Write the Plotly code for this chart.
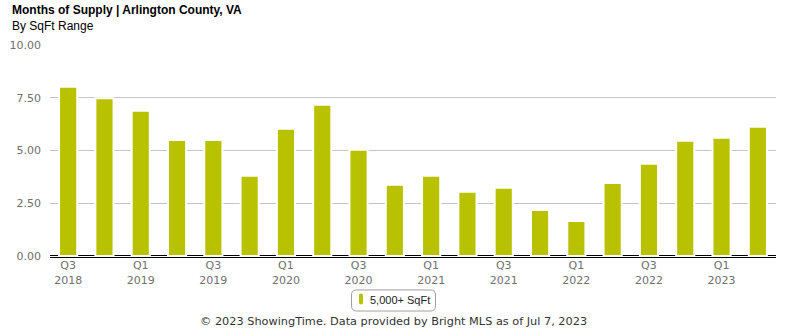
import plotly.graph_objects as go

quarters = ["Q3 2018", "Q4 2018", "Q1 2019", "Q2 2019", "Q3 2019", "Q4 2019",
            "Q1 2020", "Q2 2020", "Q3 2020", "Q4 2020", "Q1 2021", "Q2 2021",
            "Q3 2021", "Q4 2021", "Q1 2022", "Q2 2022", "Q3 2022", "Q4 2022",
            "Q1 2023", "Q2 2023"]
months_supply = [8.02, 7.47, 6.88, 5.50, 5.50, 3.80, 6.03, 7.17, 5.03, 3.37,
                 3.80, 3.04, 3.23, 2.18, 1.66, 3.46, 4.37, 5.46, 5.60, 6.12]
tick_cats = quarters[::2]
tick_labels = [q.replace(" ", "<br>") for q in tick_cats]
y_ticks = [0, 2.5, 5, 7.5, 10]
series_name = "5,000+ SqFt"
bar_color = "#b8c200"

W, H = 785, 330
L, R, T = 50, 9, 45
PB = 256.6  # pixel y of plot bottom
B = H - PB
pw, ph = W - L - R, PB - T

def px(x):
    return (x - L) / pw

def py(y):
    return (PB - y) / ph

fig = go.Figure()
fig.add_trace(go.Bar(
    x=quarters, y=months_supply, name=series_name, showlegend=False,
    marker=dict(color=bar_color, line=dict(color="white", width=2)),
))

fig.update_layout(
    width=W, height=H,
    margin=dict(l=L, r=R, t=T, b=B, autoexpand=False),
    plot_bgcolor="white", paper_bgcolor="white",
    bargap=0.5,
    showlegend=False,
    font=dict(family="DejaVu Sans", size=11, color="#666666"),
    xaxis=dict(
        type="category", tickmode="array", tickvals=tick_cats, ticktext=tick_labels,
        showgrid=False, showline=True, linecolor="black", linewidth=1,
        tickfont=dict(family="DejaVu Sans", size=11, color="#707070"),
        ticks="", fixedrange=True, automargin=False, ticklabelstandoff=-2,
    ),
    yaxis=dict(
        range=[-0.05, 10], tickvals=y_ticks, tickformat=".2f",
        showgrid=True, gridcolor="#c4c4c4", gridwidth=1,
        zeroline=True, zerolinecolor="black", zerolinewidth=1,
        showline=False, ticklabelstandoff=8, automargin=False,
        tickfont=dict(family="DejaVu Sans", size=11, color="#707070"),
    ),
)

# legend: rounded box, bar symbol and series name
def rounded_rect(xa, xb, ya, yb, r):
    x0, x1, y0, y1 = px(xa), px(xb), py(ya), py(yb)
    rx, ry = r / pw, r / ph
    return (f"M {x0+rx},{y0} L {x1-rx},{y0} Q {x1},{y0} {x1},{y0-ry} "
            f"L {x1},{y1+ry} Q {x1},{y1} {x1-rx},{y1} L {x0+rx},{y1} "
            f"Q {x0},{y1} {x0},{y1+ry} L {x0},{y0-ry} Q {x0},{y0} {x0+rx},{y0} Z")

fig.add_shape(type="path", path=rounded_rect(351.5, 435.5, 289.5, 310.5, 5),
              xref="paper", yref="paper",
              line=dict(color="#a0a0a0", width=1), fillcolor="rgba(0,0,0,0)")
fig.add_shape(type="path", path=rounded_rect(359, 363, 293, 304, 2),
              xref="paper", yref="paper",
              line=dict(color=bar_color, width=0), fillcolor=bar_color)
fig.add_annotation(text=series_name, x=px(367.5), y=py(299.5),
                   xref="paper", yref="paper", xanchor="left", yanchor="middle",
                   showarrow=False,
                   font=dict(family="Liberation Sans", size=11, color="#222222"))

fig.add_annotation(text="<b>Months of Supply | Arlington County, VA</b>",
                   x=px(10), y=py(10.5), xref="paper", yref="paper",
                   xanchor="left", yanchor="middle", showarrow=False,
                   font=dict(family="Liberation Sans", size=12, color="black"))
fig.add_annotation(text="By SqFt Range",
                   x=px(10), y=py(26), xref="paper", yref="paper",
                   xanchor="left", yanchor="middle", showarrow=False,
                   font=dict(family="Liberation Sans", size=12, color="black"))
fig.add_annotation(text="© 2023 ShowingTime. Data provided by Bright MLS as of Jul 7, 2023",
                   x=px(393), y=py(321), xref="paper", yref="paper",
                   xanchor="center", yanchor="middle", showarrow=False,
                   font=dict(family="DejaVu Sans", size=11.3, color="#333333"))

fig.write_html("out.html")
